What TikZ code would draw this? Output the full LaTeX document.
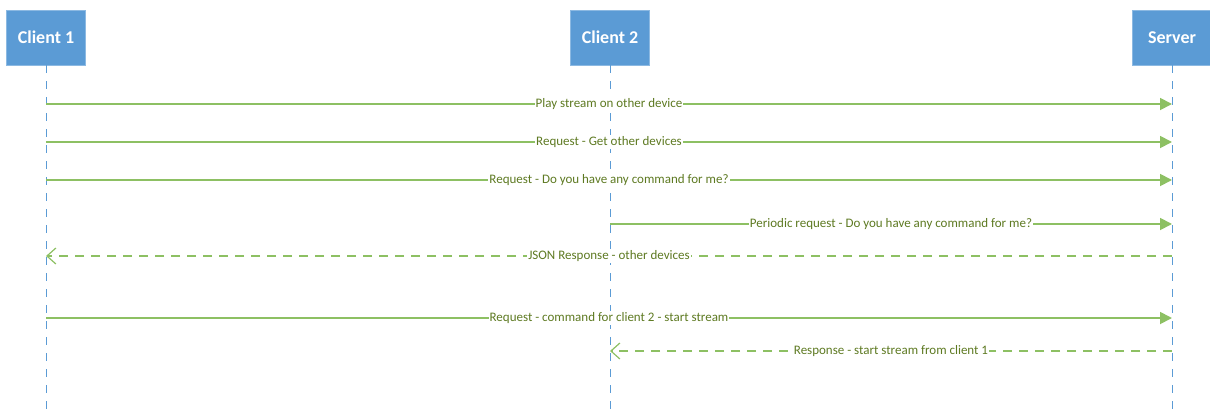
\documentclass[tikz,border=0pt]{standalone}
\usepackage{fontspec}
\setmainfont{Carlito}
\usetikzlibrary{arrows.meta}
\definecolor{actorblue}{HTML}{5B9BD5}
\definecolor{msggreen}{HTML}{8DC063}
\definecolor{labelgreen}{HTML}{5E7A22}
\tikzset{
  actor/.style={fill=actorblue, draw=actorblue!70!white, line width=0.8pt,
    minimum width=79pt, minimum height=55pt, inner sep=0pt,
    text=white, font=\fontsize{18}{20}\selectfont\bfseries},
  lifeline/.style={draw=actorblue, line width=1pt, dash pattern=on 8pt off 8pt},
  call/.style={draw=msggreen, line width=1.8pt, -{Triangle[length=12pt,width=12pt]}},
  reply/.style={draw=msggreen, line width=1.4pt, dash pattern=on 9pt off 7pt,
    -{Straight Barb[length=9pt,width=16pt,line width=1.2pt]}},
  msglabel/.style={fill=white, inner sep=1pt, text=labelgreen,
    font=\fontsize{13}{15}\selectfont},
}
\begin{document}
\begin{tikzpicture}[x=1pt,y=-1pt]
\useasboundingbox (0,0) rectangle (1210,410);
% actors
\node[actor] (c1) at (46,37.5) {Client 1};
\node[actor] (c2) at (610,37.5) {Client 2};
\node[actor] (srv) at (1172,37.5) {Server};
% lifeline ends
\coordinate (c1end) at (46,410);
\coordinate (c2end) at (610,410);
\coordinate (srvend) at (1172,410);
\draw[lifeline] (c1.south) -- (c1end);
\draw[lifeline] (c2.south) -- (c2end);
\draw[lifeline] (srv.south) -- (srvend);
% message anchors on the lifelines
\foreach \n/\y in {a/104,b/142,c/180,d/224,e/256,f/318,g/351}{
  \coordinate (c1\n) at (46,\y);
  \coordinate (c2\n) at (610,\y);
  \coordinate (srv\n) at (1172,\y);
}
% messages
\draw[call] (c1a) -- node[msglabel] (la) {Play stream on other device} (srva);
\draw[call] (c1b) -- node[msglabel] (lb) {Request - Get other devices} (srvb);
\draw[call] (c1c) -- node[msglabel] (lc) {Request - Do you have any command for me?} (srvc);
\draw[call] (c2d) -- node[msglabel] (ld) {Periodic request - Do you have any command for me?} (srvd);
\draw[reply] (srve) -- node[msglabel] (le) {JSON Response - other devices} (c1e);
\draw[call] (c1f) -- node[msglabel] (lf) {Request - command for client 2 - start stream} (srvf);
\draw[reply] (srvg) -- node[msglabel] (lg) {Response - start stream from client 1} (c2g);
\end{tikzpicture}
\end{document}
